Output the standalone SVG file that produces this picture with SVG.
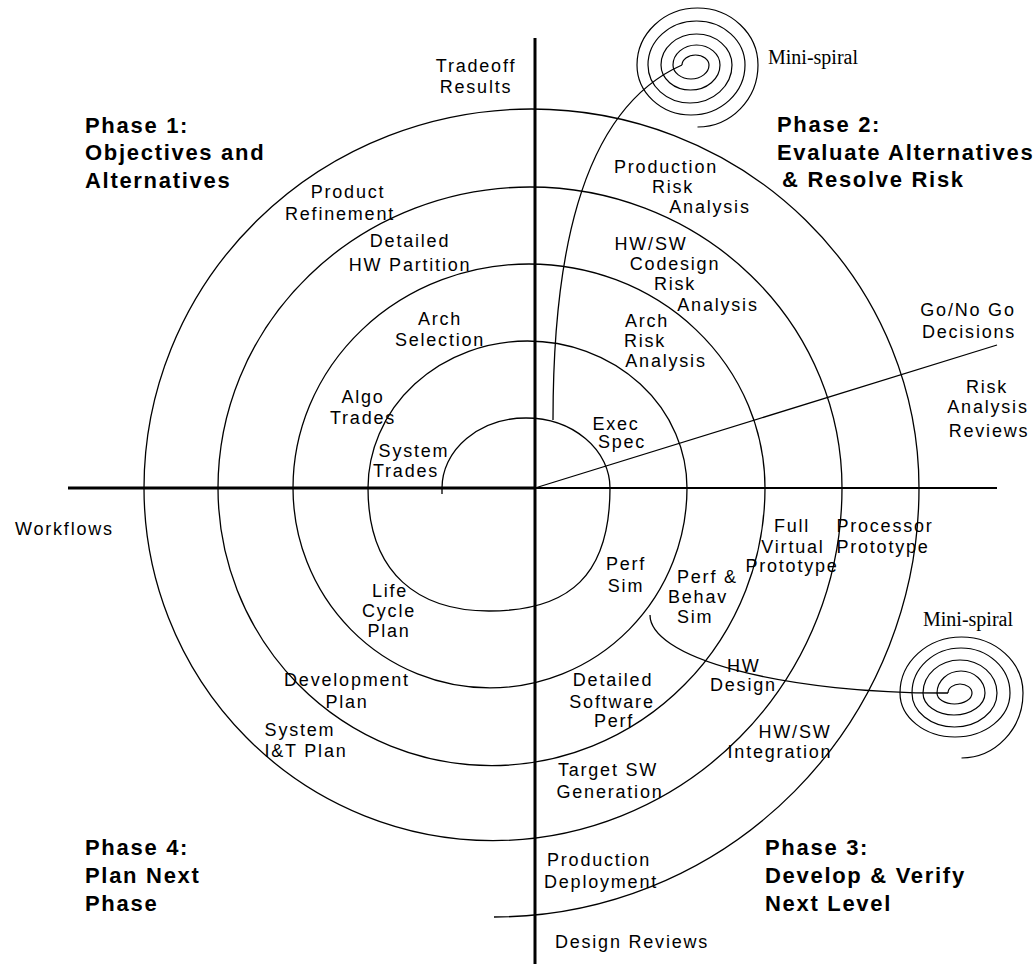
<svg xmlns="http://www.w3.org/2000/svg" width="1035" height="964" viewBox="0 0 1035 964">
<style>
.lbl{font-family:"Liberation Sans",Arial,sans-serif;font-size:18px;letter-spacing:1.8px;fill:#000}
.m{text-anchor:middle}
.ph{font-family:"Liberation Sans",Arial,sans-serif;font-size:22px;font-weight:bold;letter-spacing:1.7px;fill:#000}
.sf{font-family:"Liberation Serif","Times New Roman",serif;font-size:20px;fill:#000}
.ln{fill:none;stroke:#000;stroke-width:1.3}
.ms{fill:none;stroke:#000;stroke-width:1.2}
</style>
<rect width="1035" height="964" fill="#fff"/>
<g id="axes">
<line x1="535" y1="38" x2="535" y2="964" stroke="#000" stroke-width="3"/>
<line x1="68" y1="488" x2="535" y2="488" stroke="#000" stroke-width="3"/>
<line x1="535" y1="488" x2="997" y2="488" stroke="#000" stroke-width="2"/>
</g>
<g id="spiral">
<path class="ln" d="M442,494 L442,488 A84,70 0 0 1 610,488 C610,575 570,611 489,611 C420,611 368,575 368,488 A159.5,147 0 0 1 687,488 A197,200 0 0 1 293,488 A236,224 0 0 1 765,488 A273.5,277.6 0 0 1 218,488 A312,301 0 0 1 842,488 A349,352.6 0 0 1 144,488 A387.5,379 0 0 1 919,488 A425,429 0 0 1 494,917"/>
</g>
<g id="connectors">
<path class="ln" d="M553,420 C553,270 576,112 682,65"/>
<path class="ln" d="M650,615 A293,78 0 0 0 943,693 L948,693"/>
<line class="ln" x1="535" y1="488" x2="997" y2="345"/>
</g>
<g id="mini-spiral-1">
<path class="ms" d="M682,65 A13.5,10 0 0 1 709,65 A18,14 0 0 1 673,65 A23.5,20 0 0 1 720,65 A29.5,25 0 0 1 661,65 A35.5,31 0 0 1 732,65 A42,38 0 0 1 648,65 A48.5,44 0 0 1 745,65 A54,50 0 0 1 637,65 A60.5,57 0 0 1 758,65 A60.5,62 0 0 1 697.5,127"/>
<text class="sf" x="768" y="64">Mini-spiral</text>
</g>
<g id="mini-spiral-2">
<path class="ms" d="M948,693 A12,9 0 0 1 972,693 A17.5,11 0 0 1 937,693 A24,22 0 0 1 985,693 A31,22 0 0 1 923,693 A37,33 0 0 1 997,693 A42.5,34 0 0 1 912,693 A49,45 0 0 1 1010,693 A55,44 0 0 1 900,693 A61.5,56 0 0 1 1023,693 A61.5,65 0 0 1 961.5,758"/>
<text class="sf" x="923" y="626">Mini-spiral</text>
</g>
<g id="phase1"><text class="ph" x="85" y="133">Phase 1:</text><text class="ph" x="85" y="160">Objectives and</text><text class="ph" x="85" y="188">Alternatives</text></g>
<g id="phase2"><text class="ph" x="777" y="132">Phase 2:</text><text class="ph" x="777" y="160">Evaluate Alternatives</text><text class="ph" x="782" y="187">&amp; Resolve Risk</text></g>
<g id="phase3"><text class="ph" x="765" y="855">Phase 3:</text><text class="ph" x="765" y="883">Develop &amp; Verify</text><text class="ph" x="765" y="911">Next Level</text></g>
<g id="phase4"><text class="ph" x="85" y="855">Phase 4:</text><text class="ph" x="85" y="883">Plan Next</text><text class="ph" x="85" y="911">Phase</text></g>
<g id="tradeoff"><text class="lbl m" x="476" y="72">Tradeoff</text><text class="lbl m" x="476" y="93">Results</text></g>
<g id="prod-risk"><text class="lbl m" x="666" y="173">Production</text><text class="lbl m" x="673" y="193">Risk</text><text class="lbl m" x="710" y="213">Analysis</text></g>
<g id="codesign-risk"><text class="lbl m" x="651" y="250">HW/SW</text><text class="lbl m" x="675" y="270">Codesign</text><text class="lbl m" x="675" y="290">Risk</text><text class="lbl m" x="718" y="311">Analysis</text></g>
<g id="arch-risk"><text class="lbl m" x="647" y="327">Arch</text><text class="lbl m" x="645" y="347">Risk</text><text class="lbl m" x="666" y="367">Analysis</text></g>
<g id="exec-spec"><text class="lbl m" x="616" y="430">Exec</text><text class="lbl m" x="622" y="448">Spec</text></g>
<g id="gonogo"><text class="lbl m" x="968" y="316">Go/No Go</text><text class="lbl m" x="969" y="338">Decisions</text></g>
<g id="risk-reviews"><text class="lbl m" x="987" y="393">Risk</text><text class="lbl m" x="988" y="413">Analysis</text><text class="lbl m" x="989" y="437">Reviews</text></g>
<g id="full-virtual"><text class="lbl m" x="792" y="532">Full</text><text class="lbl m" x="793" y="553">Virtual</text><text class="lbl m" x="792" y="572">Prototype</text></g>
<g id="processor"><text class="lbl m" x="885" y="532">Processor</text><text class="lbl m" x="883" y="553">Prototype</text></g>
<g id="perf-sim"><text class="lbl m" x="626" y="570">Perf</text><text class="lbl m" x="626" y="592">Sim</text></g>
<g id="perf-behav"><text class="lbl" x="677" y="583">Perf &amp;</text><text class="lbl" x="668" y="603">Behav</text><text class="lbl" x="677" y="623">Sim</text></g>
<g id="hw-design"><text class="lbl" x="727" y="672">HW</text><text class="lbl" x="710" y="691">Design</text></g>
<g id="det-sw"><text class="lbl m" x="613" y="686">Detailed</text><text class="lbl m" x="612" y="708">Software</text><text class="lbl m" x="614" y="727">Perf</text></g>
<g id="hwsw-int"><text class="lbl m" x="795" y="738">HW/SW</text><text class="lbl m" x="780" y="758">Integration</text></g>
<g id="target-sw"><text class="lbl m" x="608" y="776">Target SW</text><text class="lbl m" x="610" y="798">Generation</text></g>
<g id="prod-deploy"><text class="lbl m" x="599" y="866">Production</text><text class="lbl m" x="601" y="888">Deployment</text></g>
<g id="design-reviews"><text class="lbl m" x="632" y="948">Design Reviews</text></g>
<g id="sys-trades"><text class="lbl m" x="414" y="457">System</text><text class="lbl m" x="406" y="477">Trades</text></g>
<g id="workflows"><text class="lbl" x="15" y="535">Workflows</text></g>
<g id="life-cycle"><text class="lbl m" x="390" y="597">Life</text><text class="lbl m" x="389" y="617">Cycle</text><text class="lbl m" x="389" y="637">Plan</text></g>
<g id="dev-plan"><text class="lbl m" x="347" y="686">Development</text><text class="lbl m" x="347" y="708">Plan</text></g>
<g id="sys-it"><text class="lbl m" x="300" y="736">System</text><text class="lbl m" x="306" y="757">I&amp;T Plan</text></g>
<g id="prod-ref"><text class="lbl m" x="348" y="198">Product</text><text class="lbl m" x="340" y="220">Refinement</text></g>
<g id="det-hw"><text class="lbl m" x="410" y="247">Detailed</text><text class="lbl m" x="410" y="271">HW Partition</text></g>
<g id="arch-sel"><text class="lbl m" x="440" y="325">Arch</text><text class="lbl m" x="440" y="346">Selection</text></g>
<g id="algo"><text class="lbl m" x="363" y="403">Algo</text><text class="lbl m" x="363" y="424">Trades</text></g>
</svg>
